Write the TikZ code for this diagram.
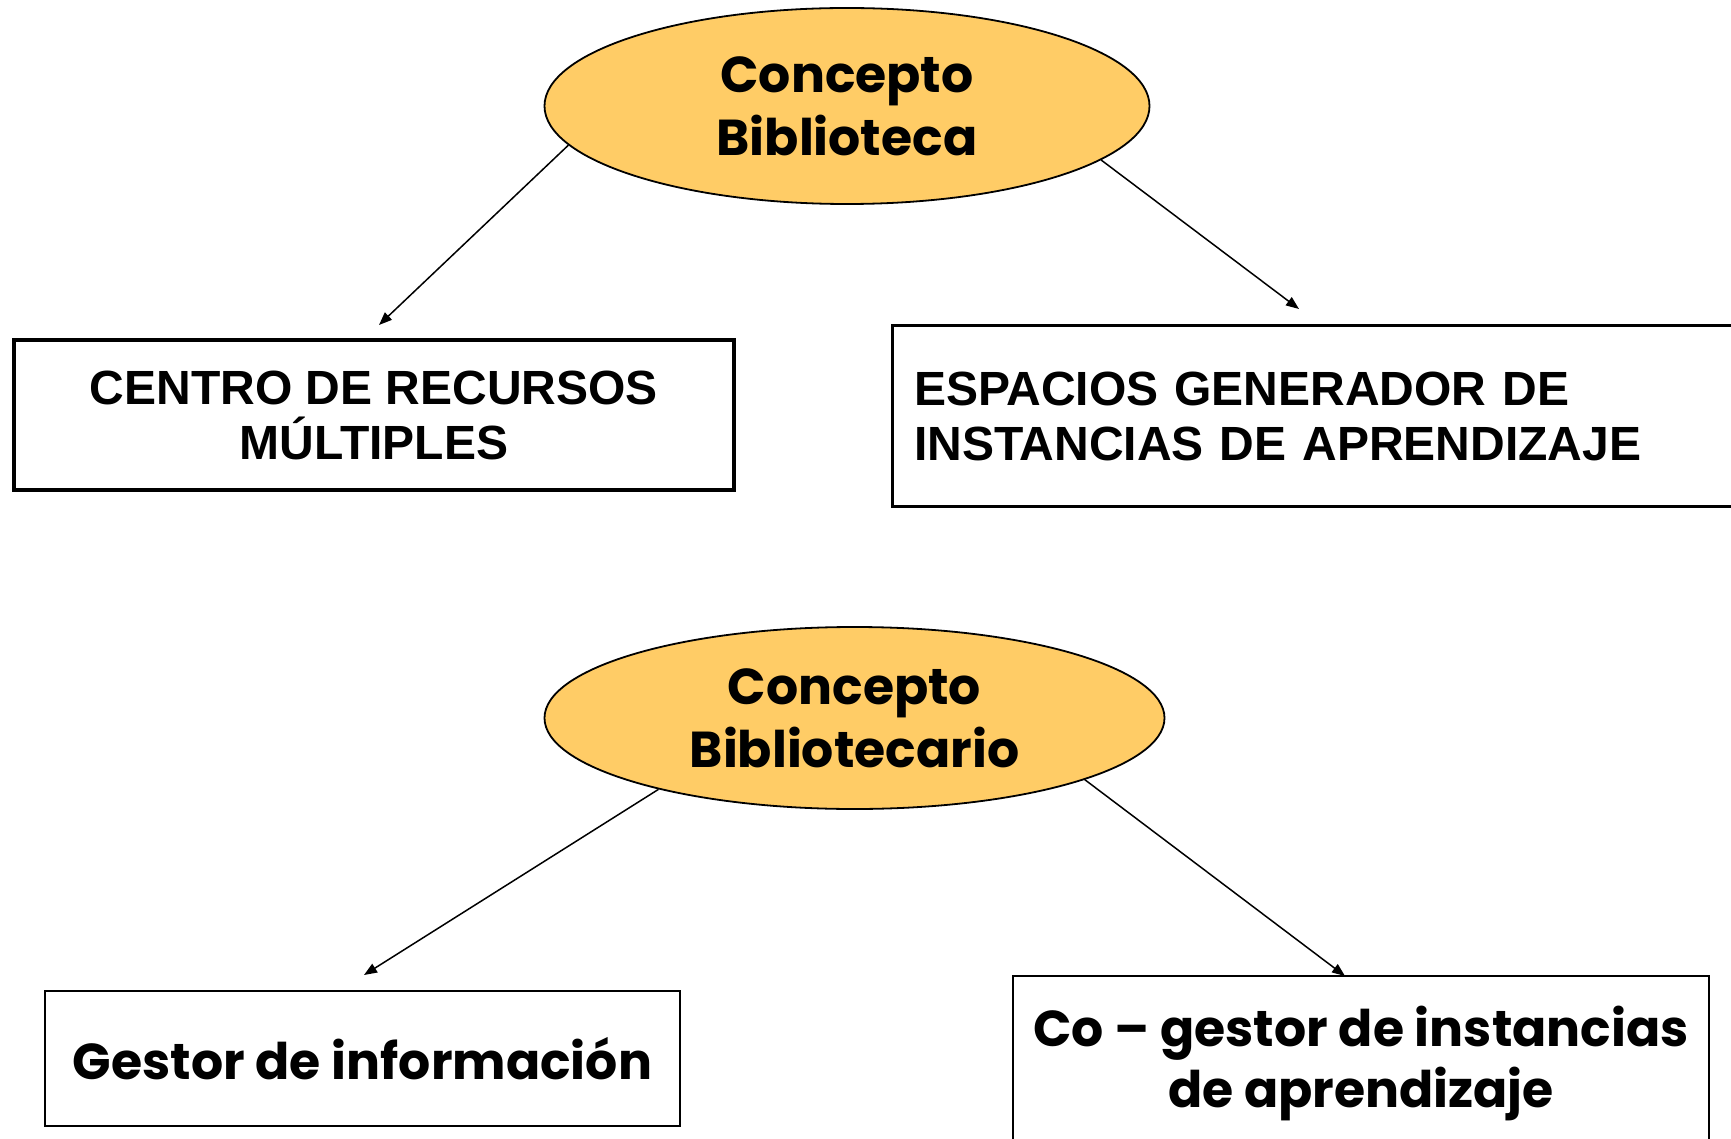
\documentclass[tikz,border=0pt]{standalone}
\usepackage{fontspec}
\setmainfont{Liberation Sans}
\newfontfamily\gothic{Poppins}
\newfontfamily\arialfam{Liberation Sans}
\usetikzlibrary{shapes.geometric,arrows.meta}
\definecolor{conceptfill}{RGB}{255,204,102}
\begin{document}
\begin{tikzpicture}[x=1pt,y=-1pt,
  concept/.style={ellipse, draw=black, line width=1.8pt, fill=conceptfill,
    inner sep=0pt, align=center,
    font=\gothic\bfseries\fontsize{50.5}{63}\selectfont},
  capsbox/.style={draw=black, line width=3.5pt, inner sep=0pt,
    font=\arialfam\bfseries\fontsize{48}{55}\selectfont},
  gestorbox/.style={draw=black, line width=2.5pt, inner sep=0pt, align=center,
    font=\gothic\bfseries\fontsize{50.5}{61}\selectfont},
  link/.style={line width=1.5pt, -{Triangle[length=13pt,width=10pt]}}]
\clip (0,0) rectangle (1731,1139);
\fill[white] (0,0) rectangle (1731,1139);

\node[concept, minimum width=605pt, minimum height=196pt] (e1) at (847,106) {Concepto\\Biblioteca};
\node[capsbox, minimum width=720pt, minimum height=150pt, align=center] (b1) at (374,415)
  {CENTRO DE RECURSOS\\MÚLTIPLES};
\node[capsbox, line width=3pt, minimum width=853pt, minimum height=180pt,
  text width=809pt, align=left] (b2) at (1318.5,416)
  {ESPACIOS GENERADOR DE\\INSTANCIAS DE APRENDIZAJE};

\node[concept, minimum width=620pt, minimum height=182pt] (e2) at (854.5,718) {Concepto\\Bibliotecario};
\node[gestorbox, minimum width=635pt, minimum height=135pt] (b3) at (362.5,1058.5) {Gestor de información};
\node[gestorbox, minimum width=696pt, minimum height=174pt] (b4) at (1361,1063)
  {Co – gestor de instancias\\de aprendizaje};

\coordinate (t1) at (379,325);
\coordinate (t2) at (1299,309);
\coordinate (t3) at (364,975);
\coordinate (t4) at (1345,976);

\draw[link] (e1.188) -- (t1);
\draw[link] (e1.348) -- (t2);
\draw[link] (e2.200) -- (t3);
\draw[link] (e2.345) -- (t4);
\end{tikzpicture}
\end{document}
